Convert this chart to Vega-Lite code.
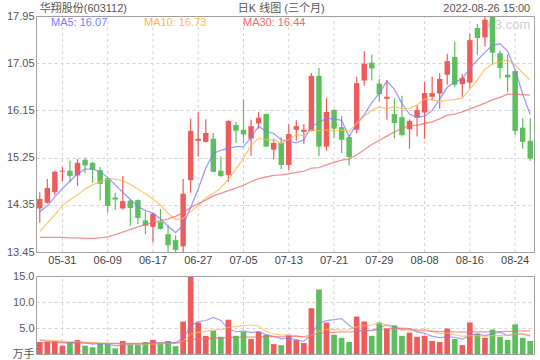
{
  "$schema": "https://vega.github.io/schema/vega-lite/v6.json",
  "width": 498,
  "height": 338,
  "autosize": {"type": "none"},
  "padding": {"left": 36, "top": 16, "right": 6, "bottom": 6},
  "background": "#ffffff",
  "config": {
    "font": "Liberation Sans, Noto Sans CJK SC",
    "view": {"stroke": null},
    "axis": {"labelFontSize": 11, "labelColor": "#555555", "domain": true, "domainColor": "#9e9e9e", "domainWidth": 1, "ticks": false, "tickSize": 0, "gridColor": "#d2d2d2", "gridDash": [3, 3], "labelFont": "Liberation Sans, Noto Sans CJK SC"},
    "legend": {"labelFontSize": 11, "labelFont": "Liberation Sans, Noto Sans CJK SC"}
  },
  "data": {"values": [
    {"d":"05-26","o":14.28,"h":14.59,"l":14.01,"c":14.46,"v":2.3,"ma5":14.22,"ma10":13.84,"ma30":13.73,"vma5":2.6,"vma10":2.7,"vma30":2.2},
    {"d":"05-27","o":14.39,"h":14.84,"l":14.37,"c":14.67,"v":2.4,"ma5":14.33,"ma10":14.00,"ma30":13.73,"vma5":2.5,"vma10":2.65,"vma30":2.2},
    {"d":"05-30","o":14.59,"h":15.00,"l":14.53,"c":14.98,"v":2.4,"ma5":14.50,"ma10":14.16,"ma30":13.73,"vma5":2.4,"vma10":2.6,"vma30":2.2},
    {"d":"05-31","o":14.98,"h":15.07,"l":14.79,"c":15.00,"v":1.6,"ma5":14.66,"ma10":14.33,"ma30":13.73,"vma5":2.3,"vma10":2.5,"vma30":2.15},
    {"d":"06-01","o":15.00,"h":15.19,"l":14.79,"c":14.90,"v":2.3,"ma5":14.80,"ma10":14.44,"ma30":13.72,"vma5":2.2,"vma10":2.45,"vma30":2.15},
    {"d":"06-02","o":14.91,"h":15.22,"l":14.71,"c":15.15,"v":2.7,"ma5":14.94,"ma10":14.54,"ma30":13.72,"vma5":2.28,"vma10":2.4,"vma30":2.1},
    {"d":"06-06","o":15.21,"h":15.25,"l":14.95,"c":15.10,"v":1.6,"ma5":15.03,"ma10":14.65,"ma30":13.71,"vma5":2.12,"vma10":2.3,"vma30":2.1},
    {"d":"06-07","o":15.15,"h":15.17,"l":14.77,"c":15.02,"v":1.3,"ma5":15.03,"ma10":14.73,"ma30":13.71,"vma5":1.9,"vma10":2.2,"vma30":2.1},
    {"d":"06-08","o":15.01,"h":15.07,"l":14.43,"c":14.75,"v":2.0,"ma5":14.98,"ma10":14.79,"ma30":13.72,"vma5":1.98,"vma10":2.1,"vma30":2.05},
    {"d":"06-09","o":14.86,"h":14.87,"l":14.20,"c":14.33,"v":1.9,"ma5":14.87,"ma10":14.84,"ma30":13.74,"vma5":1.9,"vma10":2.05,"vma30":2.05},
    {"d":"06-10","o":14.49,"h":14.58,"l":14.25,"c":14.45,"v":1.1,"ma5":14.73,"ma10":14.84,"ma30":13.78,"vma5":1.58,"vma10":1.93,"vma30":2.05},
    {"d":"06-13","o":14.28,"h":14.90,"l":14.26,"c":14.42,"v":2.5,"ma5":14.59,"ma10":14.81,"ma30":13.83,"vma5":1.76,"vma10":1.94,"vma30":2.05},
    {"d":"06-14","o":14.43,"h":14.45,"l":13.95,"c":14.29,"v":1.9,"ma5":14.45,"ma10":14.74,"ma30":13.88,"vma5":1.88,"vma10":1.89,"vma30":2.05},
    {"d":"06-15","o":14.44,"h":14.45,"l":13.98,"c":14.10,"v":1.8,"ma5":14.32,"ma10":14.65,"ma30":13.93,"vma5":1.84,"vma10":1.91,"vma30":2.05},
    {"d":"06-16","o":14.05,"h":14.22,"l":13.79,"c":13.95,"v":2.3,"ma5":14.24,"ma10":14.56,"ma30":13.97,"vma5":1.92,"vma10":1.91,"vma30":2.05},
    {"d":"06-17","o":13.93,"h":14.20,"l":13.63,"c":14.18,"v":2.7,"ma5":14.19,"ma10":14.46,"ma30":14.01,"vma5":2.24,"vma10":1.91,"vma30":2.1},
    {"d":"06-20","o":14.02,"h":14.27,"l":13.88,"c":13.89,"v":2.0,"ma5":14.08,"ma10":14.34,"ma30":14.05,"vma5":2.14,"vma10":1.95,"vma30":2.1},
    {"d":"06-21","o":13.79,"h":13.96,"l":13.45,"c":13.58,"v":2.5,"ma5":13.94,"ma10":14.19,"ma30":14.08,"vma5":2.26,"vma10":2.07,"vma30":2.1},
    {"d":"06-22","o":13.68,"h":13.77,"l":13.45,"c":13.49,"v":1.5,"ma5":13.82,"ma10":14.07,"ma30":14.13,"vma5":2.2,"vma10":2.02,"vma30":2.1},
    {"d":"06-23","o":13.56,"h":14.84,"l":13.45,"c":14.56,"v":6.25,"ma5":13.96,"ma10":14.09,"ma30":14.20,"vma5":2.99,"vma10":2.46,"vma30":2.3},
    {"d":"06-24","o":14.82,"h":15.99,"l":14.58,"c":15.76,"v":14.9,"ma5":14.30,"ma10":14.22,"ma30":14.30,"vma5":5.43,"vma10":3.84,"vma30":2.75},
    {"d":"06-27","o":15.57,"h":16.11,"l":15.27,"c":15.61,"v":6.05,"ma5":14.65,"ma10":14.34,"ma30":14.37,"vma5":6.24,"vma10":4.19,"vma30":2.9},
    {"d":"06-28","o":15.55,"h":15.98,"l":15.54,"c":15.72,"v":3.5,"ma5":15.05,"ma10":14.48,"ma30":14.44,"vma5":6.44,"vma10":4.35,"vma30":2.95},
    {"d":"06-29","o":15.61,"h":15.72,"l":14.97,"c":14.98,"v":4.5,"ma5":15.33,"ma10":14.57,"ma30":14.52,"vma5":7.04,"vma10":4.62,"vma30":3.05},
    {"d":"06-30","o":15.00,"h":15.27,"l":14.88,"c":14.90,"v":3.3,"ma5":15.39,"ma10":14.67,"ma30":14.57,"vma5":6.45,"vma10":4.72,"vma30":3.05},
    {"d":"07-01","o":14.92,"h":15.96,"l":14.79,"c":15.95,"v":6.6,"ma5":15.43,"ma10":14.84,"ma30":14.62,"vma5":4.79,"vma10":5.11,"vma30":3.2},
    {"d":"07-04","o":15.87,"h":15.93,"l":15.53,"c":15.76,"v":3.5,"ma5":15.46,"ma10":15.03,"ma30":14.67,"vma5":4.28,"vma10":5.26,"vma30":3.2},
    {"d":"07-05","o":15.78,"h":16.36,"l":15.53,"c":15.69,"v":4.3,"ma5":15.46,"ma10":15.24,"ma30":14.72,"vma5":4.44,"vma10":5.44,"vma30":3.25},
    {"d":"07-06","o":15.61,"h":15.97,"l":15.28,"c":15.85,"v":2.9,"ma5":15.63,"ma10":15.48,"ma30":14.79,"vma5":4.12,"vma10":5.58,"vma30":3.25},
    {"d":"07-07","o":15.90,"h":16.12,"l":15.80,"c":16.01,"v":4.3,"ma5":15.85,"ma10":15.62,"ma30":14.85,"vma5":4.32,"vma10":5.39,"vma30":3.30},
    {"d":"07-08","o":16.08,"h":16.09,"l":15.45,"c":15.46,"v":3.7,"ma5":15.75,"ma10":15.59,"ma30":14.88,"vma5":3.74,"vma10":4.27,"vma30":3.34},
    {"d":"07-11","o":15.40,"h":15.61,"l":15.22,"c":15.53,"v":1.9,"ma5":15.71,"ma10":15.59,"ma30":14.91,"vma5":3.42,"vma10":3.85,"vma30":3.33},
    {"d":"07-12","o":15.53,"h":15.64,"l":15.03,"c":15.11,"v":1.7,"ma5":15.59,"ma10":15.52,"ma30":14.92,"vma5":2.9,"vma10":3.67,"vma30":3.30},
    {"d":"07-13","o":15.11,"h":15.88,"l":15.01,"c":15.70,"v":3.7,"ma5":15.56,"ma10":15.60,"ma30":14.94,"vma5":3.06,"vma10":3.59,"vma30":3.37},
    {"d":"07-14","o":15.78,"h":15.96,"l":15.57,"c":15.85,"v":2.7,"ma5":15.53,"ma10":15.69,"ma30":14.97,"vma5":2.74,"vma10":3.53,"vma30":3.39},
    {"d":"07-15","o":15.74,"h":15.89,"l":15.51,"c":15.78,"v":2.1,"ma5":15.59,"ma10":15.67,"ma30":14.99,"vma5":2.42,"vma10":3.08,"vma30":3.37},
    {"d":"07-18","o":15.76,"h":16.86,"l":15.75,"c":16.81,"v":8.8,"ma5":15.85,"ma10":15.78,"ma30":15.05,"vma5":3.8,"vma10":3.61,"vma30":3.61},
    {"d":"07-19","o":16.81,"h":16.96,"l":15.28,"c":15.46,"v":12.4,"ma5":15.92,"ma10":15.76,"ma30":15.06,"vma5":5.94,"vma10":4.42,"vma30":3.98},
    {"d":"07-20","o":15.46,"h":16.39,"l":15.38,"c":16.12,"v":6.05,"ma5":16.00,"ma10":15.78,"ma30":15.11,"vma5":6.41,"vma10":4.74,"vma30":4.11},
    {"d":"07-21","o":16.16,"h":16.17,"l":15.62,"c":15.80,"v":3.7,"ma5":15.99,"ma10":15.76,"ma30":15.16,"vma5":6.61,"vma10":4.68,"vma30":4.17},
    {"d":"07-22","o":15.83,"h":16.04,"l":15.34,"c":15.59,"v":3.1,"ma5":15.96,"ma10":15.78,"ma30":15.20,"vma5":6.81,"vma10":4.62,"vma30":4.24},
    {"d":"07-25","o":15.64,"h":15.68,"l":15.10,"c":15.26,"v":2.3,"ma5":15.65,"ma10":15.75,"ma30":15.22,"vma5":5.51,"vma10":4.66,"vma30":4.23},
    {"d":"07-26","o":15.78,"h":16.79,"l":15.72,"c":16.67,"v":7.2,"ma5":15.89,"ma10":15.90,"ma30":15.30,"vma5":4.47,"vma10":5.21,"vma30":4.41},
    {"d":"07-27","o":16.72,"h":17.28,"l":16.62,"c":17.04,"v":6.25,"ma5":16.07,"ma10":16.04,"ma30":15.40,"vma5":4.51,"vma10":5.46,"vma30":4.56},
    {"d":"07-28","o":17.06,"h":17.21,"l":16.72,"c":16.95,"v":3.5,"ma5":16.30,"ma10":16.15,"ma30":15.50,"vma5":4.47,"vma10":5.54,"vma30":4.60},
    {"d":"07-29","o":16.66,"h":16.75,"l":16.32,"c":16.46,"v":6.05,"ma5":16.48,"ma10":16.22,"ma30":15.58,"vma5":5.06,"vma10":5.94,"vma30":4.71},
    {"d":"08-01","o":16.37,"h":16.73,"l":15.97,"c":16.41,"v":4.9,"ma5":16.71,"ma10":16.18,"ma30":15.66,"vma5":5.58,"vma10":5.55,"vma30":4.81},
    {"d":"08-02","o":16.08,"h":16.38,"l":15.62,"c":15.91,"v":5.5,"ma5":16.55,"ma10":16.22,"ma30":15.74,"vma5":5.24,"vma10":4.86,"vma30":4.91},
    {"d":"08-03","o":16.02,"h":16.43,"l":15.65,"c":15.68,"v":3.5,"ma5":16.28,"ma10":16.18,"ma30":15.81,"vma5":4.69,"vma10":4.6,"vma30":4.97},
    {"d":"08-04","o":15.79,"h":15.98,"l":15.42,"c":15.95,"v":4.1,"ma5":16.08,"ma10":16.19,"ma30":15.86,"vma5":4.81,"vma10":4.64,"vma30":4.90},
    {"d":"08-05","o":16.01,"h":16.25,"l":15.65,"c":16.16,"v":3.3,"ma5":16.02,"ma10":16.25,"ma30":15.87,"vma5":4.26,"vma10":4.66,"vma30":4.51},
    {"d":"08-08","o":16.11,"h":16.69,"l":15.61,"c":16.48,"v":3.5,"ma5":16.04,"ma10":16.37,"ma30":15.90,"vma5":3.98,"vma10":4.78,"vma30":4.43},
    {"d":"08-09","o":16.41,"h":16.79,"l":16.34,"c":16.48,"v":2.5,"ma5":16.15,"ma10":16.35,"ma30":15.93,"vma5":3.38,"vma10":4.31,"vma30":4.40},
    {"d":"08-10","o":16.47,"h":16.86,"l":16.18,"c":16.75,"v":2.3,"ma5":16.36,"ma10":16.32,"ma30":15.99,"vma5":3.14,"vma10":3.92,"vma30":4.32},
    {"d":"08-11","o":16.83,"h":17.23,"l":16.64,"c":17.09,"v":4.9,"ma5":16.59,"ma10":16.34,"ma30":16.06,"vma5":3.3,"vma10":4.06,"vma30":4.38},
    {"d":"08-12","o":17.17,"h":17.46,"l":16.59,"c":16.64,"v":2.9,"ma5":16.69,"ma10":16.36,"ma30":16.08,"vma5":3.22,"vma10":3.74,"vma30":4.25},
    {"d":"08-15","o":16.65,"h":16.85,"l":16.41,"c":16.77,"v":1.7,"ma5":16.75,"ma10":16.39,"ma30":16.12,"vma5":2.86,"vma10":3.42,"vma30":4.19},
    {"d":"08-16","o":16.68,"h":17.61,"l":16.58,"c":17.49,"v":6.05,"ma5":16.95,"ma10":16.55,"ma30":16.18,"vma5":3.57,"vma10":3.48,"vma30":4.25},
    {"d":"08-17","o":17.72,"h":17.80,"l":17.21,"c":17.53,"v":3.9,"ma5":17.11,"ma10":16.73,"ma30":16.23,"vma5":3.89,"vma10":3.52,"vma30":4.28},
    {"d":"08-18","o":17.54,"h":17.95,"l":17.37,"c":17.88,"v":3.1,"ma5":17.26,"ma10":16.93,"ma30":16.29,"vma5":3.53,"vma10":3.42,"vma30":4.24},
    {"d":"08-19","o":17.94,"h":17.95,"l":17.02,"c":17.25,"v":4.7,"ma5":17.39,"ma10":17.04,"ma30":16.35,"vma5":3.89,"vma10":3.56,"vma30":4.28},
    {"d":"08-22","o":17.24,"h":17.29,"l":16.76,"c":16.96,"v":3.3,"ma5":17.42,"ma10":17.08,"ma30":16.40,"vma5":4.21,"vma10":3.54,"vma30":4.32},
    {"d":"08-23","o":16.83,"h":17.21,"l":16.49,"c":16.78,"v":2.7,"ma5":17.28,"ma10":17.11,"ma30":16.46,"vma5":3.53,"vma10":3.56,"vma30":4.36},
    {"d":"08-24","o":16.90,"h":16.91,"l":15.68,"c":15.76,"v":5.7,"ma5":16.93,"ma10":17.02,"ma30":16.46,"vma5":3.88,"vma10":3.9,"vma30":4.42},
    {"d":"08-25","o":15.82,"h":16.00,"l":15.42,"c":15.55,"v":3.1,"ma5":16.46,"ma10":16.86,"ma30":16.45,"vma5":3.88,"vma10":3.72,"vma30":4.44},
    {"d":"08-26","o":15.57,"h":16.00,"l":15.19,"c":15.23,"v":2.5,"ma5":16.07,"ma10":16.73,"ma30":16.44,"vma5":3.46,"vma10":3.68,"vma30":4.45}
  ]},
  "resolve": {"scale": {"y": "independent"}, "axis": {"x": "independent", "y": "independent"}},
  "layer": [
    {
      "resolve": {"axis": {"x": "independent", "y": "independent"}},
      "layer": [
        {
          "transform": [{"filter": {"field": "d", "oneOf": ["05-31","06-09","06-17","06-27","07-05","07-13","07-21","07-29","08-08","08-16","08-24"]}}],
          "mark": {"type": "rule", "color": "#d2d2d2", "strokeDash": [3, 3], "strokeWidth": 1},
          "encoding": {
            "x": {"field": "d", "type": "ordinal", "axis": null},
            "y": {"datum": 13.45, "type": "quantitative", "axis": null},
            "y2": {"datum": 17.95}
          }
        },
        {
          "data": {"values": [{"t": "163.com"}]},
          "mark": {"type": "text", "align": "right", "baseline": "middle", "fontSize": 13, "color": "#cfcfcf"},
          "encoding": {
            "x": {"datum": "08-26", "type": "ordinal", "axis": null},
            "y": {"datum": 17.77, "type": "quantitative", "axis": null},
            "text": {"field": "t"}
          }
        },
        {
          "mark": {"type": "rule", "strokeWidth": 1.2},
          "encoding": {
            "x": {"field": "d", "type": "ordinal", "scale": {"type": "band", "paddingInner": 0, "paddingOuter": 0},
                  "axis": {"orient": "bottom", "offset": -102, "title": null, "values": ["05-31","06-09","06-17","06-27","07-05","07-13","07-21","07-29","08-08","08-16","08-24"], "grid": false, "ticks": false, "domain": true, "zindex": 2, "labelAngle": 0, "labelPadding": 2, "labelColor": "#444444", "labelOverlap": false, "labelFlush": false}},
            "y": {"field": "l", "type": "quantitative", "scale": {"domain": [13.45, 17.95], "range": [236, 0], "nice": false, "zero": false},
                  "axis": {"orient": "left", "title": null, "values": [13.45, 14.35, 15.25, 16.15, 17.05, 17.95], "format": ".2f", "grid": true, "ticks": false, "domain": true, "labelPadding": 2, "labelOverlap": false}},
            "y2": {"field": "h"},
            "color": {"condition": {"test": "datum.c >= datum.o", "value": "#ef5b5b"}, "value": "#5cbe5c"}
          }
        },
        {
          "mark": {"type": "bar", "width": {"band": 0.72}},
          "encoding": {
            "x": {"field": "d", "type": "ordinal",
                  "axis": {"orient": "top", "title": null, "values": ["05-26", "07-12", "08-26"], "grid": false, "ticks": false, "domain": true, "zindex": 2, "labelAngle": 0, "labelPadding": 3, "labelColor": "#555555", "labelOverlap": false, "labelFlush": false,
                           "labelExpr": "datum.value == '05-26' ? '华翔股份(603112)' : (datum.value == '07-12' ? '日K 线图 (三个月)' : '2022-08-26 15:00')",
                           "labelAlign": {"condition": [{"test": "datum.value == '05-26'", "value": "left"}, {"test": "datum.value == '08-26'", "value": "right"}], "value": "center"}}},
            "y": {"field": "o", "type": "quantitative", "axis": {"orient": "right", "title": null, "labels": false, "ticks": false, "grid": false, "domain": true, "zindex": 2}},
            "y2": {"field": "c"},
            "color": {"condition": {"test": "datum.c >= datum.o", "value": "#ef5b5b"}, "value": "#5cbe5c"}
          }
        },
        {
          "transform": [{"fold": ["ma5", "ma10", "ma30"], "as": ["k", "val"]}],
          "mark": {"type": "line", "strokeWidth": 1.3, "opacity": 0.75},
          "encoding": {
            "x": {"field": "d", "type": "ordinal", "axis": null},
            "y": {"field": "val", "type": "quantitative", "axis": null},
            "color": {"field": "k", "type": "nominal",
                      "scale": {"domain": ["ma5", "ma10", "ma30"], "range": ["#7b7bff", "#ffb54c", "#f06a6a"]},
                      "legend": {"orient": "none", "legendX": 1, "legendY": 1, "direction": "horizontal", "title": null, "symbolSize": 0, "symbolOpacity": 0, "symbolStrokeWidth": 0, "labelOffset": 3, "columnPadding": 22, "padding": 0,
                                 "labelExpr": "datum.value == 'ma5' ? 'MA5: 16.07' : (datum.value == 'ma10' ? 'MA10: 16.73' : 'MA30: 16.44')",
                                 "labelColor": {"expr": "scale('color', datum.value)"}}}
          }
        }
      ]
    },
    {
      "resolve": {"axis": {"x": "independent", "y": "independent"}},
      "layer": [
        {
          "transform": [{"filter": {"field": "d", "oneOf": ["05-31","06-09","06-17","06-27","07-05","07-13","07-21","07-29","08-08","08-16","08-24"]}}],
          "mark": {"type": "rule", "color": "#d2d2d2", "strokeDash": [3, 3], "strokeWidth": 1},
          "encoding": {
            "x": {"field": "d", "type": "ordinal", "axis": null},
            "y": {"datum": 0, "type": "quantitative", "axis": null},
            "y2": {"datum": 15}
          }
        },
        {
          "mark": {"type": "bar", "width": {"band": 0.75}},
          "encoding": {
            "x": {"field": "d", "type": "ordinal", "axis": {"orient": "bottom", "title": null, "labels": false, "ticks": false, "grid": false, "domain": true, "zindex": 2}},
            "y": {"field": "v", "type": "quantitative", "scale": {"domain": [0, 15], "range": [338, 260], "nice": false},
                  "axis": {"orient": "left", "title": null, "values": [0, 5, 10, 15], "grid": true, "ticks": false, "domain": true, "labelPadding": 2, "labelOverlap": false,
                           "labelExpr": "datum.value == 0 ? '万手' : format(datum.value, '.1f')"}},
            "color": {"condition": {"test": "datum.c >= datum.o", "value": "#ef5b5b"}, "value": "#5cbe5c"}
          }
        },
        {
          "mark": {"type": "line", "strokeWidth": 1.2, "opacity": 0.7, "color": "#7b7bff"},
          "encoding": {
            "x": {"field": "d", "type": "ordinal", "axis": {"orient": "top", "offset": -260, "title": null, "labels": false, "ticks": false, "grid": false, "domain": true, "zindex": 2}},
            "y": {"field": "vma5", "type": "quantitative", "axis": {"orient": "right", "title": null, "labels": false, "ticks": false, "grid": false, "domain": true, "zindex": 2}}
          }
        },
        {
          "mark": {"type": "line", "strokeWidth": 1.2, "opacity": 0.7, "color": "#ffb54c"},
          "encoding": {
            "x": {"field": "d", "type": "ordinal", "axis": null},
            "y": {"field": "vma10", "type": "quantitative", "axis": null}
          }
        },
        {
          "mark": {"type": "line", "strokeWidth": 1.2, "opacity": 0.7, "color": "#f06a6a"},
          "encoding": {
            "x": {"field": "d", "type": "ordinal", "axis": null},
            "y": {"field": "vma30", "type": "quantitative", "axis": null}
          }
        }
      ]
    }
  ]
}
